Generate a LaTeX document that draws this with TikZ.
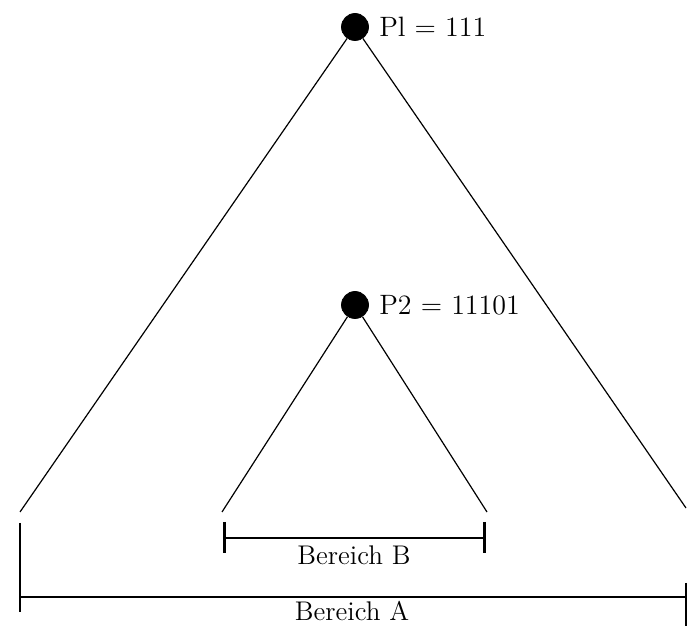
\documentclass[tikz,border=0pt]{standalone}
\usetikzlibrary{positioning}
\tikzset{
  pointnode/.style={circle,fill=black,draw=black,inner sep=0pt,minimum size=13.5pt},
  pointlabel/.style={inner sep=0pt,font=\fontsize{14}{16}\selectfont},
  branch/.style={draw=black,line width=0.6pt},
  spanline/.style={draw=black,line width=1pt},
  spantick/.style={draw=black,line width=1pt},
  spantickB/.style={draw=black,line width=1.5pt},
  spanlabel/.style={inner sep=0pt,font=\fontsize{13.5}{15}\selectfont}
}

\begin{document}
\begin{tikzpicture}[x=0.5pt,y=-0.5pt]
\useasboundingbox (0,0) rectangle (687,626);
% Punkte
\node[pointnode] (p1) at (355,27) {};
\node[pointnode] (p2) at (355,305) {};
\node[pointlabel, right=5pt of p1] (p1lab) {Pl = 111};
\node[pointlabel, right=5pt of p2] (p2lab) {P2 = 11101};
% Enden der Aeste
\coordinate (aleft) at (20,512);
\coordinate (aright) at (686,508);
\coordinate (bleft) at (222,512);
\coordinate (bright) at (487,512);
\draw[branch] (p1) -- (aleft);
\draw[branch] (p1) -- (aright);
\draw[branch] (p2) -- (bleft);
\draw[branch] (p2) -- (bright);
% Bereich B
\coordinate (btop1) at (224,522);
\coordinate (bbot1) at (224,553);
\coordinate (btop2) at (484,522);
\coordinate (bbot2) at (484,553);
\coordinate (bmid1) at (224,538);
\coordinate (bmid2) at (484,538);
\draw[spantickB] (btop1) -- (bbot1);
\draw[spantickB] (btop2) -- (bbot2);
\draw[spanline] (bmid1) -- (bmid2);
\node[spanlabel] (blab) at (354,555) {Bereich B};
% Bereich A
\coordinate (atop1) at (20,523);
\coordinate (abot1) at (20,612);
\coordinate (atop2) at (686,583);
\coordinate (abot2) at (686,626);
\coordinate (amid1) at (20,597);
\coordinate (amid2) at (687,597);
\draw[spantick] (atop1) -- (abot1);
\draw[spantick] (atop2) -- (abot2);
\draw[spanline] (amid1) -- (amid2);
\node[spanlabel] (alab) at (352,611) {Bereich A};
\end{tikzpicture}
\end{document}
